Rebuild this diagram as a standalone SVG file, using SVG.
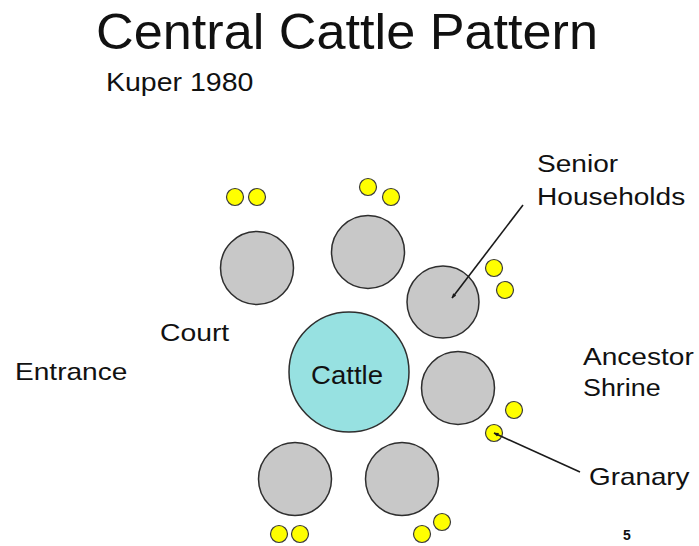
<svg xmlns="http://www.w3.org/2000/svg" width="699" height="546" viewBox="0 0 699 546">
  <style>
    text { font-family: "Liberation Sans", Arial, sans-serif; fill: #111; }
    .title { font-size: 50px; }
    .sub { font-size: 25px; }
    .label { font-size: 24px; }
    .hut { fill: #c8c8c8; stroke: #2e2e2e; stroke-width: 1.5; }
    .kraal { fill: #97e1e1; stroke: #2e2e2e; stroke-width: 1.5; }
    .grain { fill: #ffff00; stroke: #3a3a3a; stroke-width: 1.2; }
    .lead { stroke: #1a1a1a; stroke-width: 1.6; fill: none; marker-end: url(#tip); }
  </style>
  <defs>
    <marker id="tip" viewBox="0 0 10 10" refX="9" refY="5" markerWidth="5" markerHeight="5" orient="auto" markerUnits="userSpaceOnUse">
      <path d="M0,1 L10,5 L0,9 z" fill="#1a1a1a"/>
    </marker>
  </defs>
  <rect width="699" height="546" fill="#ffffff"/>

  <text class="title" x="96" y="49" textLength="502" lengthAdjust="spacingAndGlyphs">Central Cattle Pattern</text>
  <text class="sub" transform="translate(106,91) scale(1.14,1)">Kuper 1980</text>

  <!-- central cattle kraal -->
  <g id="cattle">
    <circle class="kraal" cx="349" cy="372" r="60"/>
    <text class="label" style="font-size:26px" text-anchor="middle" transform="translate(347,384) scale(1.06,1)">Cattle</text>
  </g>

  <!-- households -->
  <g id="hut-top-left"><circle class="hut" cx="257" cy="268" r="36.5"/></g>
  <g id="hut-top-middle"><circle class="hut" cx="368" cy="252" r="36.5"/></g>
  <g id="hut-senior"><circle class="hut" cx="443" cy="302" r="36"/></g>
  <g id="hut-ancestor"><circle class="hut" cx="458" cy="388" r="36.5"/></g>
  <g id="hut-bottom-left"><circle class="hut" cx="295" cy="479" r="36.5"/></g>
  <g id="hut-bottom-middle"><circle class="hut" cx="402" cy="479" r="36.5"/></g>

  <!-- granaries -->
  <g id="granaries-top-left">
    <circle class="grain" cx="235" cy="197" r="8.5"/>
    <circle class="grain" cx="257" cy="197" r="8.5"/>
  </g>
  <g id="granaries-top-middle">
    <circle class="grain" cx="368" cy="187" r="8.5"/>
    <circle class="grain" cx="391" cy="197" r="8.5"/>
  </g>
  <g id="granaries-right">
    <circle class="grain" cx="494" cy="268" r="8.5"/>
    <circle class="grain" cx="505" cy="290" r="8.5"/>
  </g>
  <g id="granaries-ancestor">
    <circle class="grain" cx="514" cy="410" r="8.5"/>
    <circle class="grain" cx="494" cy="433" r="8.5"/>
  </g>
  <g id="granaries-bottom-left">
    <circle class="grain" cx="279" cy="534" r="8.5"/>
    <circle class="grain" cx="300" cy="534" r="8.5"/>
  </g>
  <g id="granaries-bottom-middle">
    <circle class="grain" cx="422" cy="534" r="8.5"/>
    <circle class="grain" cx="442" cy="522" r="8.5"/>
  </g>

  <!-- labels, set slightly wide -->
  <g id="label-court"><text class="label" transform="translate(160,341) scale(1.18,1)">Court</text></g>
  <g id="label-entrance"><text class="label" transform="translate(15,380) scale(1.17,1)">Entrance</text></g>
  <g id="label-senior">
    <text class="label" transform="translate(537,172) scale(1.17,1)">Senior</text>
    <text class="label" transform="translate(537,205) scale(1.17,1)">Households</text>
  </g>
  <g id="label-ancestor">
    <text class="label" transform="translate(583,365) scale(1.17,1)">Ancestor</text>
    <text class="label" transform="translate(583,396) scale(1.12,1)">Shrine</text>
  </g>
  <g id="label-granary"><text class="label" transform="translate(589,485) scale(1.16,1)">Granary</text></g>
  <text x="627" y="540" text-anchor="middle" style="font-size:14px;font-weight:bold">5</text>

  <!-- connectors -->
  <g id="connectors">
    <line class="lead" x1="523" y1="205" x2="452" y2="298"/>
    <line class="lead" x1="580" y1="472" x2="494" y2="433"/>
  </g>
</svg>
